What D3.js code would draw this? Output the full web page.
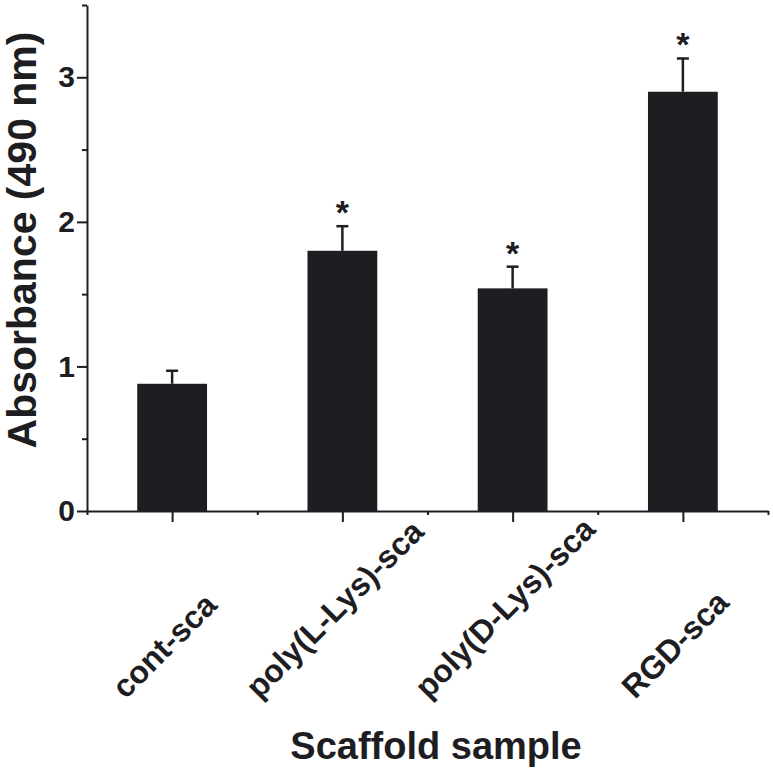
<!DOCTYPE html>
<html>
<head>
<meta charset="utf-8">
<script src="https://cdn.jsdelivr.net/npm/d3@7"></script>
<style>
body { margin: 0; background: #fff; }
text { font-family: "Liberation Sans", Arial, sans-serif; font-weight: bold; }
</style>
</head>
<body>
<div id="chart"></div>
<script>
// ------------------------------- data -------------------------------
var samples = ['cont-sca', 'poly(L-Lys)-sca', 'poly(D-Lys)-sca', 'RGD-sca']
var absorbance = [0.88, 1.80, 1.54, 2.90]
var errors = [0.09, 0.17, 0.15, 0.23]
var significant = [false, true, true, true]
var yMajor = [0, 1, 2, 3]
var yMinor = [0.5, 1.5, 2.5, 3.5]
var xMajor = [1, 2, 3, 4]
var xMinor = [0.5, 1.5, 2.5, 3.5, 4.5]

var width = 773
var height = 768
var ink = '#1e1d21'
var barWidth = 0.41

var svg = d3.select('#chart')
    .append('svg')
    .attr('width', width)
    .attr('height', height)

var x = d3.scaleLinear().domain([0.5, 4.5]).range([87, 768])
var y = d3.scaleLinear().domain([0, 3.5]).range([511, 5])

var rows = samples.map(function(s, i) {
    return {pos: i + 1, name: s, value: absorbance[i], err: errors[i], star: significant[i]}
})

// ------------------------------- bars -------------------------------
svg.append('g')
    .selectAll('rect')
    .data(rows)
    .enter()
    .append('rect')
    .attr('x', function(d) { return x(d.pos - barWidth / 2) })
    .attr('width', function(d) { return x(d.pos + barWidth / 2) - x(d.pos - barWidth / 2) })
    .attr('y', function(d) { return y(d.value) })
    .attr('height', function(d) { return y(0) - y(d.value) })
    .style('fill', ink)

// error bars (upper half only)
var err = svg.append('g').attr('stroke', ink).attr('stroke-width', 2.5)
rows.forEach(function(d) {
    var cx = x(d.pos)
    err.append('line')
        .attr('x1', cx).attr('x2', cx)
        .attr('y1', y(d.value)).attr('y2', y(d.value + d.err))
    err.append('line')
        .attr('x1', cx - 6).attr('x2', cx + 6)
        .attr('y1', y(d.value + d.err)).attr('y2', y(d.value + d.err))
})

// significance stars
svg.append('g')
    .selectAll('text')
    .data(rows.filter(function(d) { return d.star }))
    .enter()
    .append('text')
    .attr('x', function(d) { return x(d.pos) })
    .attr('y', function(d) { return y(d.value + d.err) - 2 })
    .attr('text-anchor', 'middle')
    .style('font-size', '34px')
    .style('fill', ink)
    .text('*')

// ------------------------------- axes -------------------------------
var styleAxis = function(g) {
    g.selectAll('path, line').attr('stroke', ink).attr('stroke-width', 2)
    g.selectAll('text').style('font-size', '30px').style('fill', ink)
}

svg.append('g')
    .attr('transform', 'translate(87,0)')
    .call(d3.axisLeft(y).tickValues(yMinor).tickSize(5).tickSizeOuter(0).tickFormat(''))
    .call(styleAxis)
    .select('.domain').remove()

svg.append('g')
    .attr('transform', 'translate(87,0)')
    .call(d3.axisLeft(y).tickValues(yMajor).tickSize(10).tickSizeOuter(0).tickPadding(2).tickFormat(d3.format('d')))
    .call(styleAxis)

svg.append('g')
    .attr('transform', 'translate(0,511)')
    .call(d3.axisBottom(x).tickValues(xMinor).tickSize(4).tickSizeOuter(0).tickFormat(''))
    .call(styleAxis)
    .select('.domain').remove()

svg.append('g')
    .attr('transform', 'translate(0,511)')
    .call(d3.axisBottom(x).tickValues(xMajor).tickSize(11).tickSizeOuter(0).tickFormat(''))
    .call(styleAxis)

// rotated category labels, centred on their tick and sharing a bottom line
rows.forEach(function(d) {
    var t = svg.append('text')
        .attr('text-anchor', 'start')
        .style('font-size', '32px')
        .style('fill', ink)
        .text(d.name)
    var len = t.node().getComputedTextLength()
    t.attr('transform', 'translate(' + (x(d.pos) - len / 2 * Math.SQRT1_2) + ',700) rotate(-45)')
})

// ------------------------------- axis titles -------------------------------
svg.append('text')
    .attr('transform', 'translate(36,240) rotate(-90)')
    .attr('text-anchor', 'middle')
    .style('font-size', '41px')
    .style('fill', ink)
    .text('Absorbance (490 nm)')

svg.append('text')
    .attr('x', 436)
    .attr('y', 759)
    .attr('text-anchor', 'middle')
    .style('font-size', '38px')
    .style('fill', ink)
    .text('Scaffold sample')
</script>
</body>
</html>
